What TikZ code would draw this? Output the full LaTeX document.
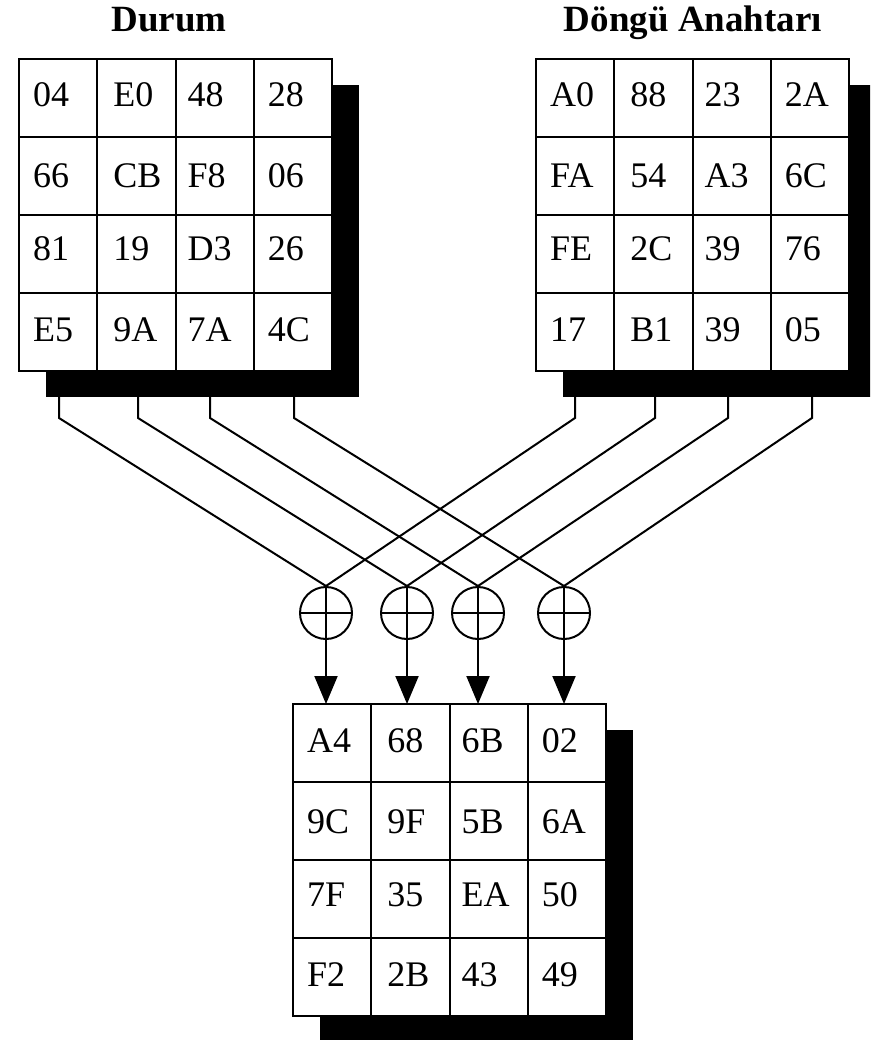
\documentclass[tikz,border=0pt]{standalone}
\usepackage{fontspec}
\setmainfont{Liberation Serif}
\usetikzlibrary{arrows.meta}

% One 4x4 byte matrix with its drop shadow.
% #1 name prefix, #2 left x, #3 top y, #4 rows of entries
\newcommand{\bytegrid}[4]{%
  \fill[gridshadow] (#2+27,#3+26) rectangle (#2+27+313,#3+26+312);
  \foreach \row [count=\r from 0] in {#4} {
    \foreach \val [count=\c from 0] in \row {
      \pgfmathsetmacro{\padx}{{14,16,12,14}[\c]}
      \pgfmathsetmacro{\basey}{{48,51,46,48}[\r]}
      \node[cellbox,anchor=north west] (#1-\r-\c) at (#2+\c*78.25,#3+\r*78) {};
      \node[celltext] (#1-t-\r-\c) at (#2+\c*78.25+\padx,#3+\r*78+\basey) {\val};
    }
  }
}

\begin{document}
\begin{tikzpicture}[x=1pt,y=-1pt,
  gridshadow/.style={fill=black},
  cellbox/.style={draw,line width=2pt,fill=white,minimum width=78.25pt,
    minimum height=78pt,inner sep=0pt,outer sep=0pt},
  celltext/.style={anchor=base west,inner sep=0pt,
    font=\fontsize{36}{40}\selectfont},
  title/.style={anchor=base,inner sep=0pt,
    font=\fontsize{37}{42}\selectfont\bfseries},
  wire/.style={line width=2pt,line join=miter},
  xorop/.style={draw,circle,line width=2pt,minimum size=52pt,inner sep=0pt,
    path picture={\draw[line width=2pt]
      (path picture bounding box.north) -- (path picture bounding box.south)
      (path picture bounding box.west) -- (path picture bounding box.east);}},
  feed/.style={line width=2pt,-{Triangle[length=28pt,width=23pt]}}]

\useasboundingbox (0,0) rectangle (870,1040);
\clip (0,0) rectangle (870,1040);

% headings
\node[title] (durum) at (169,32) {Durum};
\node[title] (anahtar) at (693,32) {Döngü Anahtarı};

% state, round key and result matrices
\bytegrid{st}{19}{59}{{04,E0,48,28},{66,CB,F8,06},{81,19,D3,26},{E5,9A,7A,4C}}
\bytegrid{rk}{536}{59}{{A0,88,23,2A},{FA,54,A3,6C},{FE,2C,39,76},{17,B1,39,05}}
\bytegrid{out}{293}{704}{{A4,68,6B,02},{9C,9F,5B,6A},{7F,35,EA,50},{F2,2B,43,49}}

% XOR gates
\node[xorop] (x1) at (326,613) {};
\node[xorop] (x2) at (407,613) {};
\node[xorop] (x3) at (478,613) {};
\node[xorop] (x4) at (564,613) {};

% column taps under the state and key matrices
\foreach \i/\xs/\xk in {1/59/575,2/138/655,3/210/728,4/294/812} {
  \coordinate (sa\i) at (\xs,397);
  \coordinate (sb\i) at (\xs,418);
  \coordinate (ka\i) at (\xk,397);
  \coordinate (kb\i) at (\xk,418);
  \draw[wire] (sa\i) -- (sb\i) -- (x\i.north);
  \draw[wire] (ka\i) -- (kb\i) -- (x\i.north);
}

% results into the output matrix
\foreach \i in {1,...,4} {
  \draw[feed] (x\i.south) -- (x\i.south |- out-0-0.north);
}
\end{tikzpicture}
\end{document}
